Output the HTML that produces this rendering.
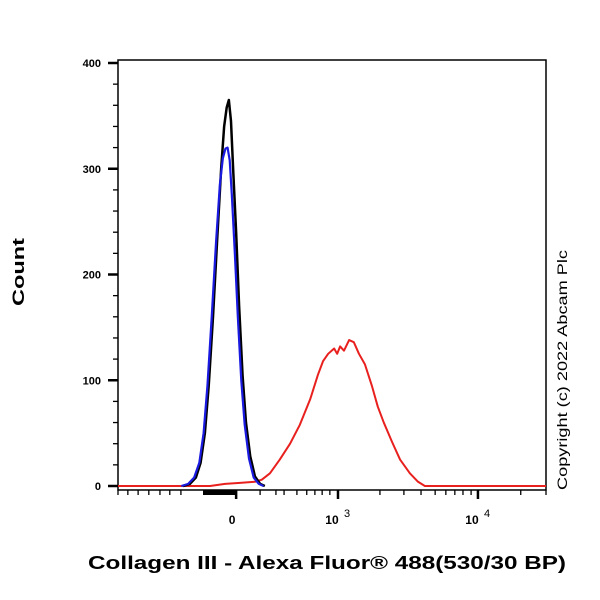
<!DOCTYPE html>
<html><head><meta charset="utf-8"><style>
body{margin:0;background:#fff;}
svg{display:block;font-family:"Liberation Sans",Arial,sans-serif;}
</style></head><body>
<svg id="chart" width="600" height="600">
<rect x="118" y="60" width="428" height="430" fill="#fff" stroke="#000" stroke-width="1.5"/>
<g id="axes"></g>
<g id="series"></g>
<text x="0" y="0" transform="translate(24,272) rotate(-90)" text-anchor="middle" font-size="17" font-weight="bold" textLength="68" lengthAdjust="spacingAndGlyphs">Count</text>
<text x="88" y="569" font-size="18" font-weight="bold" textLength="478" lengthAdjust="spacingAndGlyphs">Collagen III - Alexa Fluor® 488(530/30 BP)</text>
<text x="0" y="0" transform="translate(567,490) rotate(-90)" font-size="14" textLength="240" lengthAdjust="spacingAndGlyphs">Copyright (c) 2022 Abcam Plc</text>
</svg>
<script>
const yTicks=[0,100,200,300,400];
const xMajorLabels=["0","10","10"];
const xMajorSup=["","3","4"];
const xMajorChannels=[276,514,841];
const blackX=[152,168,182,193,203,212,222,232,241,248,254,259,264,269,276,283,291,299,309,320,332,343];
const blackY=[0,2,8,22,50,95,160,235,300,340,358,365,345,300,240,170,105,60,28,9,2,0];
const blueX=[148,164,178,190,200,209,219,229,238,245,251,256,261,266,273,280,288,296,306,317,329,340];
const blueY=[0,2,8,22,50,95,160,230,285,310,319,320,308,275,220,160,100,58,26,8,2,0];
const redX=[0,215,250,285,320,336,355,378,402,425,449,467,479,491,505,512,519,528,540,551,563,577,593,607,621,640,659,682,701,717,1000];
const redY=[0,0,2,3,4,6,12,25,40,58,82,105,118,125,130,125,132,128,138,136,125,115,95,75,60,42,25,12,4,0,0];
const xMinorChannels=[0,23,47,72,98,121,147,332,369,388,418,441,460,477,495,612,668,708,741,766,787,806,825,941,1000];
const NS="http://www.w3.org/2000/svg";
function xs(c){return 118+c*428/1000;}
function ys(v){return 486-v*423/400;}
const axes=document.getElementById('axes'),ser=document.getElementById('series');
function mk(t,a,p){const e=document.createElementNS(NS,t);for(const k in a)e.setAttribute(k,a[k]);p.appendChild(e);return e;}
for(let v=0;v<=400;v+=20){
  const major=v%100===0;
  const l=mk('line',{x1:major?108:113,x2:118,y1:ys(v),y2:ys(v),stroke:'#000','stroke-width':major?2.5:1.3},axes);
  
  
}
yTicks.forEach(v=>{
  const t=mk('text',{x:101,y:ys(v)+4,'text-anchor':'end','font-size':'11','font-weight':'bold'},axes);
  t.textContent=v;
  
  
});
xMinorChannels.forEach(c=>{
  const l=mk('line',{x1:xs(c),x2:xs(c),y1:490,y2:495,stroke:'#000','stroke-width':1.3},axes);
  
  
});
const cl=mk('rect',{x:203,y:490,width:33,height:5,fill:'#000'},axes);


xMajorChannels.forEach((c,i)=>{
  const l=mk('line',{x1:xs(c),x2:xs(c),y1:490,y2:499,stroke:'#000','stroke-width':2.5},axes);
  
  
  const t=mk('text',{x:i>0?xs(c)-6:xs(c)-4,y:i>0?524:524,'text-anchor':'middle','font-size':'12','font-weight':'bold'},axes);
  t.textContent=xMajorLabels[i];
  
  
  if(xMajorSup[i]){
    const s=mk('text',{x:xs(c)+6,y:517,'font-size':'11'},axes);
    s.textContent=xMajorSup[i];
    
    
  }
});
function line(X,Y,col,w,name){
  const p=mk('polyline',{points:X.map((x,i)=>xs(x)+','+ys(Y[i])).join(' '),fill:'none',stroke:col,'stroke-width':w,'stroke-linejoin':'round'},ser);
  
  
}
line(redX,redY,'#e8201e',2,'red-series');
line(blackX,blackY,'#000',2.5,'black-series');
line(blueX,blueY,'#1a1ae0',2.2,'blue-series');
</script>
</body></html>
